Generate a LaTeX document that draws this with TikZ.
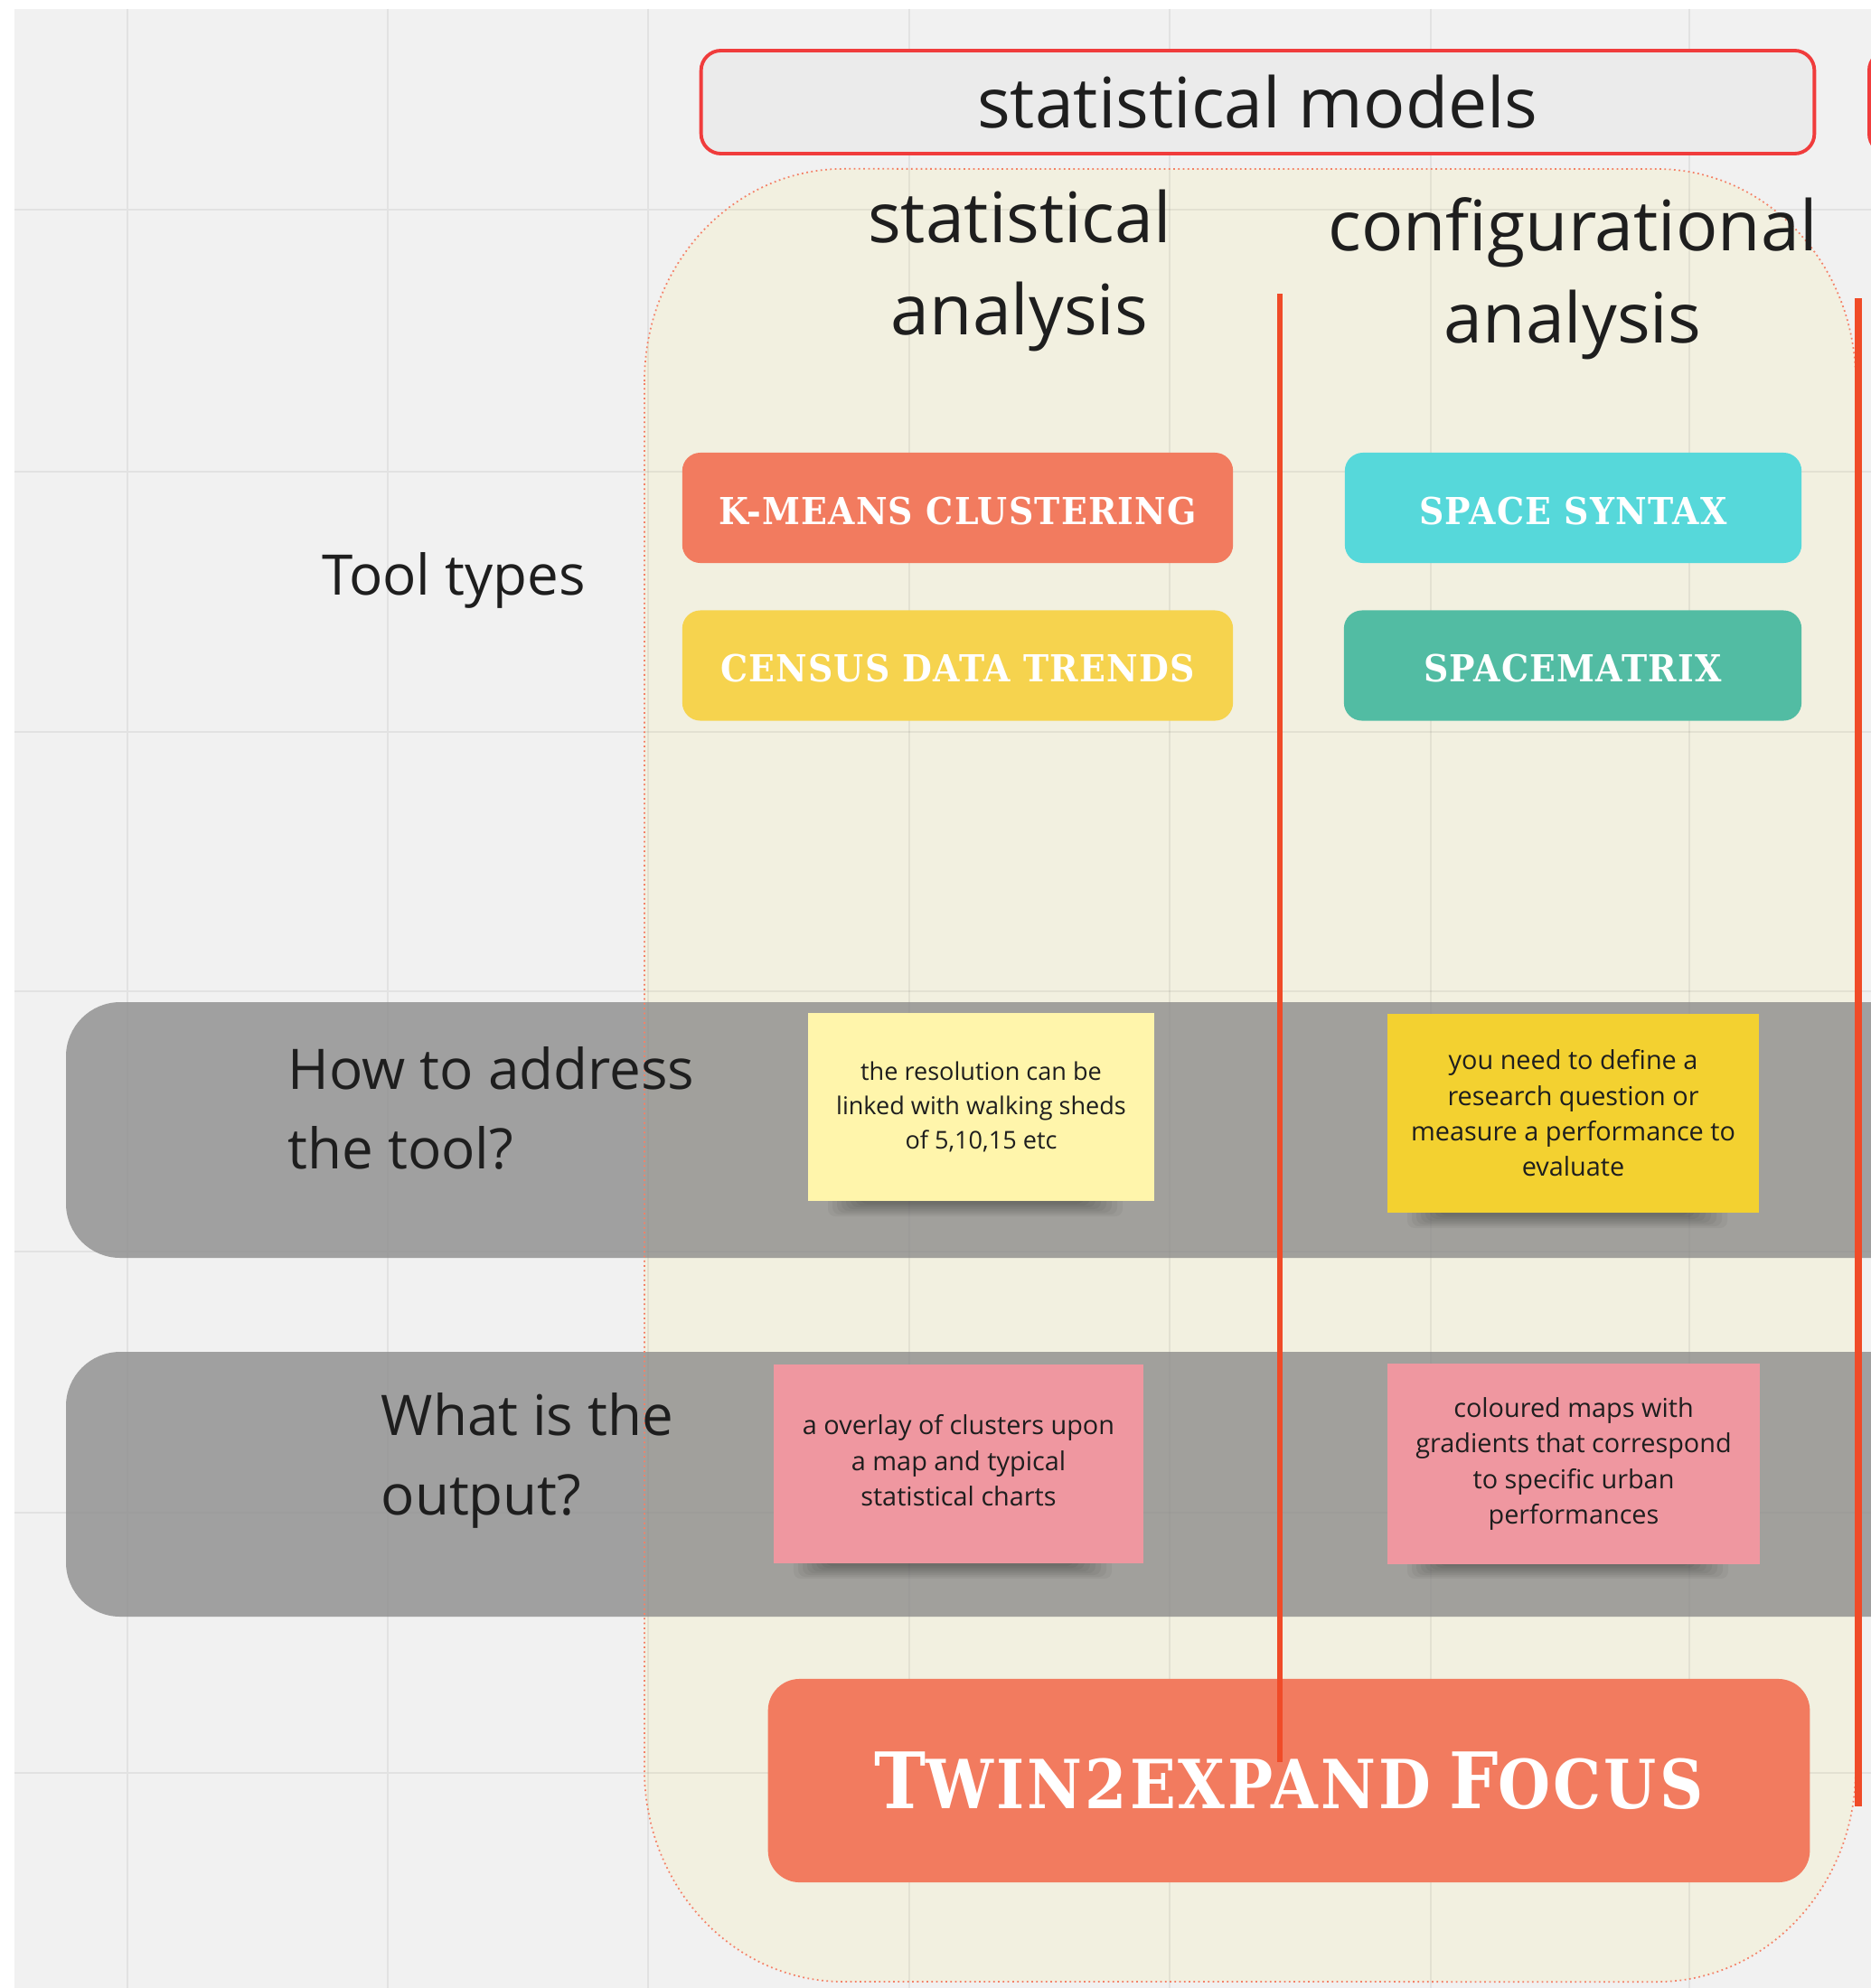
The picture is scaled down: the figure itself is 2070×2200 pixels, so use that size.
\documentclass[tikz,border=0pt]{standalone}
\usepackage{fontspec}
\setmainfont{Open Sans}
\newfontfamily\tagfont[LetterSpace=3,FakeStretch=0.92]{DejaVu Serif}
\newfontfamily\twinfont[LetterSpace=4,FakeStretch=0.89]{DejaVu Serif}
\definecolor{pagebg}{RGB}{241,241,241}
\definecolor{gridc}{RGB}{226,226,226}
\definecolor{beige}{RGB}{242,240,224}
\definecolor{coral}{RGB}{242,123,95}
\definecolor{tagyellow}{RGB}{246,211,78}
\definecolor{tagcyan}{RGB}{86,216,218}
\definecolor{tagteal}{RGB}{82,188,163}
\definecolor{sepred}{RGB}{240,75,40}
\definecolor{boxred}{RGB}{240,60,60}
\definecolor{boxfill}{RGB}{235,235,235}
\definecolor{bandgray}{RGB}{134,134,134}
\definecolor{notepale}{RGB}{255,245,171}
\definecolor{noteyellow}{RGB}{243,209,48}
\definecolor{notepink}{RGB}{239,151,160}
\definecolor{inkc}{RGB}{30,30,30}
\newcommand{\containerpath}{(713,422) arc[start angle=180,end angle=90,x radius=2.2cm,y radius=2.35cm]
  -- (1833,187) arc[start angle=90,end angle=0,x radius=2.2cm,y radius=2.35cm]
  -- (2053,1958) arc[start angle=0,end angle=-90,x radius=2.2cm,y radius=2.35cm]
  -- (933,2193) arc[start angle=-90,end angle=-180,x radius=2.2cm,y radius=2.35cm] -- cycle}
\newcommand{\bigsc}[1]{{\fontsize{24.5}{28}\selectfont #1}}
\newcommand{\smallsc}[1]{{\fontsize{21.3}{28}\selectfont #1}}
\newcommand{\noteshadow}[3]{%
  \foreach \k in {0,...,7} \fill[black, opacity=0.045, rounded corners=0.08cm] (#1+22+5*\k,#3-30) rectangle (#2-35-6*\k,#3+17-2*\k);}
\begin{document}
\begin{tikzpicture}[x=0.01cm,y=-0.01cm,
  gridline/.style={draw=gridc, line width=0.6pt},
  modelbox/.style={draw=boxred, line width=1.1pt, fill=boxfill, rounded corners=0.22cm, inner sep=0, text=inkc, font=\fontsize{21.9}{26}\selectfont},
  coltitle/.style={inner sep=0, align=center, text=inkc, font=\fontsize{21.9}{29}\selectfont},
  rowlabel/.style={inner sep=0, align=left, anchor=west, text=inkc, font=\fontsize{17.6}{25}\selectfont},
  tagbox/.style={rounded corners=0.2cm, inner sep=0, text=white, minimum height=1.22cm, text height=0.36cm, text depth=0cm, font=\tagfont\bfseries\fontsize{11.7}{14}\selectfont},
  band/.style={fill=bandgray, opacity=0.75, rounded corners=0.6cm},
  notebox/.style={inner sep=0, align=center, text=inkc, font=\fontsize{8.2}{11.2}\selectfont},
  sepline/.style={draw=sepred},
  twinbox/.style={fill=coral, rounded corners=0.35cm, inner sep=0, text=white, font=\twinfont\bfseries}
]
\useasboundingbox (0,0) rectangle (2070,2200);
\clip (0,0) rectangle (2070,2200);
\fill[white] (0,0) rectangle (2070,2200);
\fill[pagebg] (16,10) rectangle (2070,2200);
% grid
\foreach \gx in {141,429,717,1006,1294,1583,1869} \draw[gridline] (\gx,10) -- (\gx,2200);
\foreach \gy in {232,522,810,1097,1385,1674,1962} \draw[gridline] (16,\gy) -- (2070,\gy);
% header boxes
\node[modelbox, minimum width=12.31cm, minimum height=1.14cm] (models) at (1391.5,113) {statistical models};
\node[modelbox, minimum width=12.31cm, minimum height=1.14cm, anchor=west] (nextmodels) at (2066,113) {};
% container
\fill[beige] \containerpath;
\begin{scope}
  \clip \containerpath;
  \foreach \gx in {141,429,717,1006,1294,1583,1869} \draw[black, opacity=0.06, line width=0.6pt] (\gx,10) -- (\gx,2200);
  \foreach \gy in {232,522,810,1097,1385,1674,1962} \draw[black, opacity=0.06, line width=0.6pt] (16,\gy) -- (2070,\gy);
\end{scope}
% bands
\fill[band] (2300,1109) -- (73,1109) -- (73,1392) -- (2300,1392) -- cycle;
\fill[band] (2300,1496) -- (73,1496) -- (73,1789) -- (2300,1789) -- cycle;
\draw[draw=sepred!70, line width=0.5pt, densely dotted] \containerpath;
% titles
\node[coltitle] (stattitle) at (1128,299) {statistical\\analysis};
\node[coltitle] (conftitle) at (1740,308) {configurational\\analysis};
\node[inner sep=0, text=inkc, font=\fontsize{17.6}{25}\selectfont] (tooltypes) at (502,642) {Tool types};
% tags
\node[tagbox, fill=coral, minimum width=6.09cm] (kmeans) at (1059.5,562) {K-MEANS CLUSTERING};
\node[tagbox, fill=tagyellow, minimum width=6.09cm] (census) at (1059.5,736.5) {CENSUS DATA TRENDS};
\node[tagbox, fill=tagcyan, minimum width=5.05cm] (syntax) at (1740.5,562) {SPACE SYNTAX};
\node[tagbox, fill=tagteal, minimum width=5.06cm] (matrix) at (1740,736.5) {SPACEMATRIX};
% notes
\noteshadow{894}{1277}{1329}
\noteshadow{1535}{1946}{1342}
\noteshadow{856}{1265}{1730}
\noteshadow{1535}{1947}{1730}
\node[notebox, fill=notepale, minimum width=3.83cm, minimum height=2.08cm, font=\fontsize{7.7}{10.8}\selectfont] (note1) at (1085.5,1225) {the resolution can be\\linked with walking sheds\\of 5,10,15 etc};
\node[notebox, fill=noteyellow, minimum width=4.11cm, minimum height=2.2cm] (note2) at (1740.5,1232) {you need to define a\\research question or\\measure a performance to\\evaluate};
\node[notebox, fill=notepink, minimum width=4.09cm, minimum height=2.2cm] (note3) at (1060.5,1620) {a overlay of clusters upon\\a map and typical\\statistical charts\rule[-0.08cm]{0pt}{0pt}};
\node[notebox, fill=notepink, minimum width=4.12cm, minimum height=2.21cm] (note4) at (1741,1620) {coloured maps with\\gradients that correspond\\to specific urban\\performances};
% row labels
\node[rowlabel] (howlabel) at (318,1226) {How to address\\the tool?};
\node[rowlabel] (outlabel) at (421,1616) {What is the\\output?};
% focus box
\node[twinbox, minimum width=11.52cm, minimum height=2.25cm] (focus) at (1426,1970.5) {\bigsc{T}\smallsc{WIN2EXPAND}\hspace{0.2cm}\bigsc{F}\smallsc{OCUS}};
% separators
\coordinate (sepatop) at (1416,325);
\coordinate (sepabot) at (1416,1950);
\coordinate (sepbtop) at (2056,330);
\coordinate (sepbbot) at (2056,1999);
\draw[sepline, line width=1.5pt] (sepatop) -- (sepabot);
\draw[sepline, line width=2.2pt] (sepbtop) -- (sepbbot);
\end{tikzpicture}
\end{document}
